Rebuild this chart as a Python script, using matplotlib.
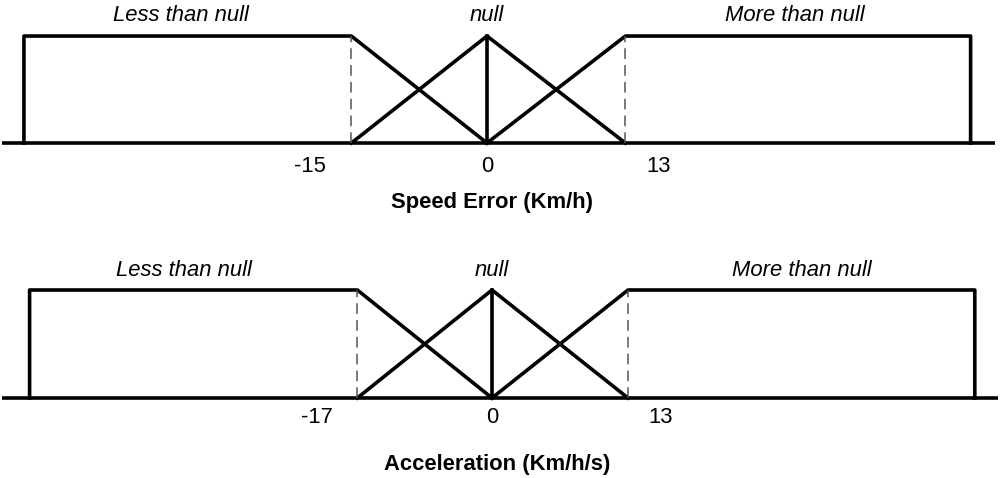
import matplotlib
matplotlib.use("Agg")
import matplotlib.pyplot as plt

plt.rcParams['font.family'] = ['Liberation Sans', 'DejaVu Sans']

# schematic positions of the membership breakpoints (one unit = distance null peak -> breakpoint)
set_names = ["Less than null", "null", "More than null"]
speed_ticks = ["-15", "0", "13"]
accel_ticks = ["-17", "0", "13"]
speed_title = "Speed Error (Km/h)"
accel_title = "Acceleration (Km/h/s)"

speed_edges = [-3.38, -0.99, 0.0, 1.01, 3.53]
accel_edges = [-3.40, -0.99, 0.0, 1.0, 3.55]

LW = 2.6


def draw_panel(ax, edges, ticks, title, xlim, baseline, name_y, tick_y, title_y, name_dx):
    lo, bl, mid, br, hi = edges
    ax.set_xlim(*xlim)
    ax.set_ylim(0, 1)
    ax.axis("off")
    # baseline
    ax.plot(baseline, [0, 0], color="black", lw=LW, clip_on=False, solid_capstyle="butt")
    # less than null
    ax.plot([lo, lo, bl, mid], [0, 1, 1, 0], color="black", lw=LW, clip_on=False)
    # null
    ax.plot([bl, mid, br], [0, 1, 0], color="black", lw=LW, clip_on=False)
    ax.plot([mid, mid], [0, 1], color="black", lw=LW, clip_on=False)
    # more than null
    ax.plot([mid, br, hi, hi], [0, 1, 1, 0], color="black", lw=LW, clip_on=False)
    # dashed guides
    for x in (bl, br):
        ax.plot([x, x], [0, 1], color="#555555", lw=1.1, dashes=(7, 4), clip_on=False)
    # set names
    ax.text((lo + bl) / 2 + name_dx[0], name_y, set_names[0], ha="center", va="center",
            style="italic", fontsize=15.8, clip_on=False)
    ax.text(mid, name_y, set_names[1], ha="center", va="center",
            style="italic", fontsize=15.8, clip_on=False)
    ax.text((br + hi) / 2 + name_dx[1], name_y, set_names[2], ha="center", va="center",
            style="italic", fontsize=15.8, clip_on=False)
    # tick labels
    ax.text(bl - 0.30, tick_y, ticks[0], ha="center", va="center", fontsize=15.8, clip_on=False)
    ax.text(mid, tick_y, ticks[1], ha="center", va="center", fontsize=15.8, clip_on=False)
    ax.text(br + 0.24, tick_y, ticks[2], ha="center", va="center", fontsize=15.8, clip_on=False)
    ax.text(mid + 0.04, title_y, title, ha="center", va="center", fontsize=15.8,
            fontweight="bold", clip_on=False)


fig = plt.figure(figsize=(10, 4.78), dpi=100)

ax1 = fig.add_axes([0, 0.7008, 1, 0.2238])
draw_panel(ax1, speed_edges, speed_ticks, speed_title,
           (-487 / 137, 513 / 137), (-3.54, 3.71), 1.196, -0.224, -0.56, (-0.05, -0.02))

ax2 = fig.add_axes([0, 0.1674, 1, 0.2259])
draw_panel(ax2, accel_edges, accel_ticks, accel_title,
           (-492 / 136, 508 / 136), (-3.60, 3.72), 1.185, -0.185, -0.62, (-0.07, 0.0))

fig.savefig("out.png", dpi=100, facecolor="white")
